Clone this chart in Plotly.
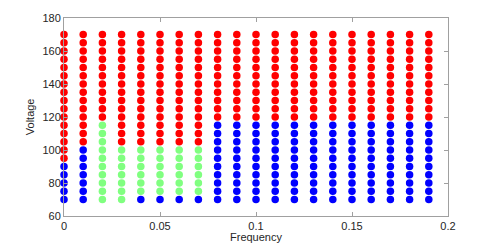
import plotly.graph_objects as go

frequencies = [0.00, 0.01, 0.02, 0.03, 0.04, 0.05, 0.06, 0.07, 0.08, 0.09,
               0.10, 0.11, 0.12, 0.13, 0.14, 0.15, 0.16, 0.17, 0.18, 0.19]
voltages = [70, 75, 80, 85, 90, 95, 100, 105, 110, 115, 120,
            125, 130, 135, 140, 145, 150, 155, 160, 165, 170]
# class of each point per frequency column, listed from 70 V upward
# B = blue, G = green, R = red
column_classes = [
    "BBBBBRRRRRRRRRRRRRRRR",
    "BBBBBBBRRRRRRRRRRRRRR",
    "GGGGGGGGGGRRRRRRRRRRR",
    "GGGGGGGRRRRRRRRRRRRRR",
    "BGGGGGGRRRRRRRRRRRRRR",
    "BGGGGGGRRRRRRRRRRRRRR",
    "BGGGGGGRRRRRRRRRRRRRR",
    "BGGGGGGRRRRRRRRRRRRRR",
    "BBBBBBBBBBRRRRRRRRRRR",
    "BBBBBBBBBBRRRRRRRRRRR",
    "BBBBBBBBBBRRRRRRRRRRR",
    "BBBBBBBBBBRRRRRRRRRRR",
    "BBBBBBBBBBRRRRRRRRRRR",
    "BBBBBBBBBBRRRRRRRRRRR",
    "BBBBBBBBBBRRRRRRRRRRR",
    "BBBBBBBBBBRRRRRRRRRRR",
    "BBBBBBBBBBRRRRRRRRRRR",
    "BBBBBBBBBBRRRRRRRRRRR",
    "BBBBBBBBBBRRRRRRRRRRR",
    "BBBBBBBBBBRRRRRRRRRRR",
]
class_colors = {"R": "#ff0000", "B": "#0000ff", "G": "#80ff80"}
x_ticks = [0, 0.05, 0.1, 0.15, 0.2]
x_tick_labels = ["0", "0.05", "0.1", "0.15", "0.2"]
y_ticks = [60, 80, 100, 120, 140, 160, 180]

fig = go.Figure()
for cls in ["R", "B", "G"]:
    xs, ys = [], []
    for f, col in zip(frequencies, column_classes):
        for v, c in zip(voltages, col):
            if c == cls:
                xs.append(f)
                ys.append(v)
    fig.add_trace(go.Scatter(x=xs, y=ys, mode="markers", cliponaxis=False,
                             marker=dict(color=class_colors[cls], size=7.5, line=dict(width=0)),
                             showlegend=False, hoverinfo="skip"))

font = dict(family="Liberation Sans, Arial", size=11, color="#262626")
axis_common = dict(showgrid=False, zeroline=False, showline=True, mirror="ticks",
                   linecolor="#a0a0a0", linewidth=1, ticks="inside", ticklen=4,
                   tickcolor="#a0a0a0", tickfont=font, automargin=False)

fig.update_xaxes(range=[0, 0.2], tickvals=x_ticks, ticktext=x_tick_labels, **axis_common)
fig.update_yaxes(range=[60, 180], tickvals=y_ticks, **axis_common)
fig.add_annotation(text="Frequency", xref="paper", yref="paper", x=0.5, y=-0.108,
                   xanchor="center", yanchor="middle", showarrow=False, font=font)
fig.add_annotation(text="Voltage", xref="paper", yref="paper", x=-0.088, y=0.5,
                   xanchor="center", yanchor="middle", textangle=-90, showarrow=False, font=font)
fig.update_layout(width=494, height=245, margin=dict(l=64, r=46, t=18, b=29),
                  paper_bgcolor="white", plot_bgcolor="white")
fig.write_html("out.html", config={"displayModeBar": False},
               post_script="document.body.style.margin='0';")
